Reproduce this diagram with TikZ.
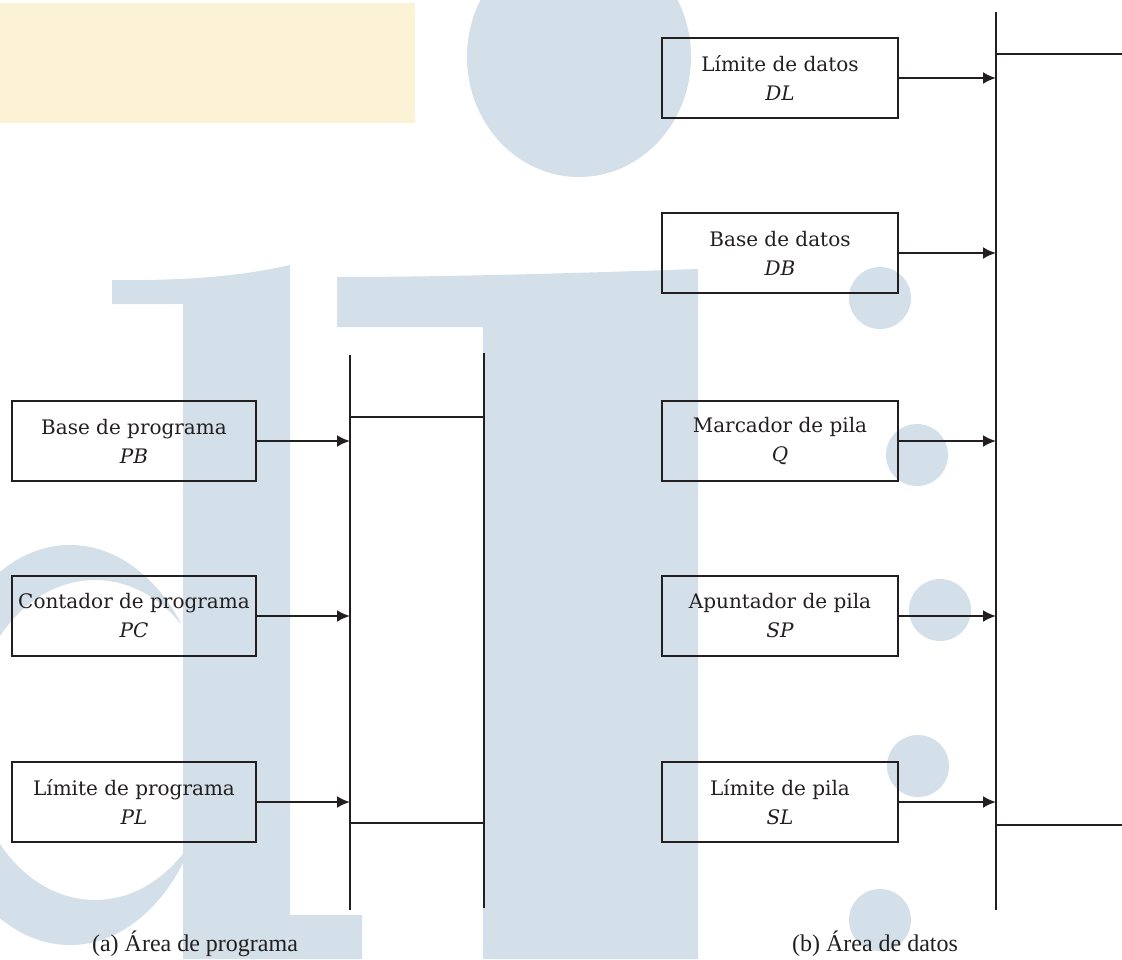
\documentclass[tikz,border=0pt]{standalone}
\usepackage{fontspec}
\setmainfont{Liberation Serif}
\newfontfamily\boxfont{DejaVu Serif}
\usetikzlibrary{arrows.meta}
\definecolor{wmblue}{RGB}{211,223,233}
\definecolor{wmyellow}{RGB}{252,242,214}
\definecolor{ink}{RGB}{35,31,32}
\tikzset{
  regbox/.style={draw=ink, line width=2.2pt, minimum height=80pt, align=center,
    inner sep=0pt, text=ink, font=\boxfont\fontsize{20}{29}\selectfont},
  lbox/.style={regbox, minimum width=244pt},
  rbox/.style={regbox, minimum width=236pt},
  arr/.style={draw=ink, line width=2.2pt, -{Latex[length=13pt,width=12pt]}},
  bar/.style={draw=ink, line width=2.2pt},
  caption/.style={text=ink, font=\fontsize{24}{28}\selectfont, inner sep=0pt}
}
\begin{document}
\begin{tikzpicture}[x=1pt,y=-1pt]
\useasboundingbox (0,0) rectangle (1122,959);
% watermark
\fill[wmyellow] (0,3) rectangle (415,123);
\fill[wmblue] (579,57) ellipse [x radius=112pt, y radius=120pt];
\begin{scope}
  \clip (0,500) rectangle (184,959);
  \fill[wmblue, even odd rule] (70,745) ellipse [x radius=140pt, y radius=200pt]
    (95,740) ellipse [x radius=125pt, y radius=160pt];
\end{scope}
\fill[wmblue] (112,280) .. controls (200,281) and (250,274) .. (290,265) -- (290,915)
  -- (362,915) -- (362,959) -- (183,959) -- (183,304) -- (112,304) -- cycle;
\fill[wmblue] (337,277) .. controls (450,277) and (580,273) .. (698,269) -- (698,959)
  -- (483,959) -- (483,327) -- (337,327) -- cycle;
\foreach \cx/\cy in {880/298, 917/455, 940/610, 918/766, 880/920}
  \fill[wmblue] (\cx,\cy) circle [radius=31pt];
% left part
\node[lbox] (pb) at (134,441) {Base de programa\\\itshape PB};
\node[lbox] (pc) at (134,616) {Contador de programa\\\itshape PC};
\node[lbox] (pl) at (134,802) {Límite de programa\\\itshape PL};
\coordinate (a1top) at (350,355);
\coordinate (a1bot) at (350,910);
\coordinate (a2top) at (484,353);
\coordinate (a2bot) at (484,908);
\draw[bar] (a1top) -- (a1bot);
\draw[bar] (a2top) -- (a2bot);
\coordinate (ha1) at (350,417);
\coordinate (ha2) at (350,823);
\draw[bar] (ha1) -- (ha1 -| a2top);
\draw[bar] (ha2) -- (ha2 -| a2top);
\draw[arr] (pb.east) -- (pb.east -| a1top);
\draw[arr] (pc.east) -- (pc.east -| a1top);
\draw[arr] (pl.east) -- (pl.east -| a1top);
\node[caption] (capa) at (195,944) {(a) Área de programa};
% right part
\node[rbox] (dl) at (780,78) {Límite de datos\\\itshape DL};
\node[rbox] (db) at (780,253) {Base de datos\\\itshape DB};
\node[rbox] (q) at (780,441) {Marcador de pila\\\itshape Q};
\node[rbox] (sp) at (780,616) {Apuntador de pila\\\itshape SP};
\node[rbox] (sl) at (780,802) {Límite de pila\\\itshape SL};
\coordinate (btop) at (996,12);
\coordinate (bbot) at (996,910);
\draw[bar] (btop) -- (bbot);
\coordinate (hb1) at (1122,54);
\coordinate (hb2) at (1122,825);
\draw[bar] (hb1 -| btop) -- (hb1);
\draw[bar] (hb2 -| btop) -- (hb2);
\draw[arr] (dl.east) -- (dl.east -| btop);
\draw[arr] (db.east) -- (db.east -| btop);
\draw[arr] (q.east) -- (q.east -| btop);
\draw[arr] (sp.east) -- (sp.east -| btop);
\draw[arr] (sl.east) -- (sl.east -| btop);
\node[caption] (capb) at (875,944) {(b) Área de datos};
\end{tikzpicture}
\end{document}
